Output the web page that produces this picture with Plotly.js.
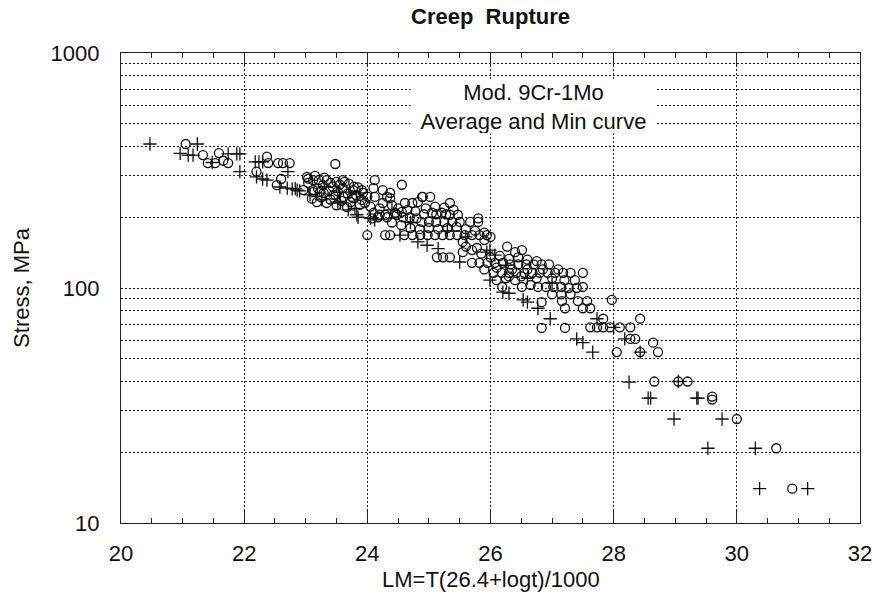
<!DOCTYPE html>
<html>
<head>
<meta charset="utf-8">
<script src="https://cdn.plot.ly/plotly-3.0.1.min.js"></script>
<style>
html,body{margin:0;padding:0;background:#fff;}
#chart{width:873px;height:594px;}
</style>
</head>
<body>
<div id="chart"></div>
<script>
// Circle symbols (o): Larson-Miller parameter and stress (MPa)
const circleLM = [21.05,21.33,21.41,21.53,21.59,21.66,21.74,22.2,22.37,22.39,22.55,22.63,22.74,23.48,22.6,22.53,23.02,23.04,23.12,22.96,
  23.12,23.6,23.21,23.34,23.5,23.63,23.78,23.91,23.12,23.29,23.45,23.61,23.77,23.91,23.28,23.44,23.6,23.77,23.93,23.18,
  23.34,23.5,23.67,23.04,23.23,23.48,23.75,23.96,24.12,24.25,24.37,24.56,24.89,24.08,24.17,24.29,24.45,24.56,24.0,24.29,
  24.37,24.1,24.12,24.32,24.37,24.1,24.2,24.32,24.48,24.58,24.69,24.8,24.61,24.73,24.82,24.9,25.02,25.34,25.05,25.21,
  25.34,25.47,25.5,25.67,25.8,25.8,24.92,25.12,25.28,24.88,25.0,25.12,25.25,25.38,24.6,24.73,24.86,24.98,25.1,25.22,
  25.34,25.46,25.58,25.7,25.82,25.94,25.13,25.23,25.34,25.55,25.78,25.55,25.9,26.0,26.27,26.4,26.51,25.7,25.82,25.95,
  26.07,26.2,26.32,26.45,26.58,26.7,26.83,26.95,26.05,26.18,26.3,26.42,26.55,26.68,26.8,26.93,27.05,27.18,27.3,27.5,
  26.65,26.77,26.9,27.02,27.15,27.27,27.4,27.5,26.19,26.51,27.37,26.1,26.25,26.4,27.0,27.15,27.3,27.97,27.16,27.42,
  27.57,27.21,27.5,27.62,26.83,27.83,28.43,26.83,27.21,27.62,27.73,27.83,27.94,28.1,28.27,28.27,28.35,28.05,28.43,28.64,
  28.72,28.66,29.05,29.2,29.6,29.6,30.0,30.64,30.9,
  23.15,23.3,23.4,23.55,23.7,23.85,23.2,23.38,23.52,23.68,23.82,24.0,23.1,23.25,23.4,23.58,23.73,23.88,24.05,24.2,
  24.25,24.4,24.5,24.65,24.78,24.95,25.1,25.25,25.4,24.4,24.55,24.7,24.85,25.0,25.15,25.3,25.45,25.6,25.75,25.9,
  25.6,25.7,25.85,26.0,26.15,26.3,26.45,26.6,26.75,25.9,26.1,26.35,26.6,26.85,27.1,26.3,26.5,26.75,27.0,27.2];
const circleStress = [410,368,340,340,375,348,340,313,362,340,340,340,340,337,291,274,297,280,288,261,
  261,288,288,288,283,283,270,261,256,254,249,244,241,237,274,270,266,261,254,232,
  230,225,221,292,256,249,244,230,288,261,241,275,244,198,200,205,209,211,168,168,
  168,266,244,244,254,209,205,200,205,200,200,198,230,230,232,244,244,230,209,209,
  205,205,191,191,198,191,206,206,206,191,191,191,191,191,168,168,168,168,168,168,
  168,168,168,168,168,168,135,135,135,142,148,157,160,165,150,142,145,128,128,128,
  128,128,126,126,126,126,126,126,116,116,116,116,116,116,116,116,116,116,116,116,
  103,101,101,101,101,100,100,101,101,101,108,108,110,108,94,94,94,89,88,88,
  88,82,82,82,87,74,74,67.6,67.6,68,68,68,68,68,68,60.7,60.7,53.4,53.4,58.5,
  53.4,40,40,40,34.5,33.5,27.7,20.8,14,
  300,295,280,275,278,268,265,260,258,252,248,245,240,243,238,235,232,226,222,218,
  230,225,218,215,212,218,222,220,215,190,185,180,178,180,178,180,182,178,175,172,
  150,145,140,135,137,133,135,132,130,120,122,120,120,120,120,112,112,110,110,108];

// Plus symbols (+)
const plusLM = [20.47,21.24,20.96,21.09,21.17,21.48,21.74,21.88,21.93,21.93,22.18,22.24,22.3,22.71,22.2,22.3,22.37,22.58,22.7,22.78,
  22.86,22.9,22.83,23.07,23.26,23.52,23.56,23.69,23.8,23.83,23.85,23.72,23.88,24.05,24.12,24.53,24.82,24.97,25.15,25.5,
  25.94,25.99,26.07,25.99,26.2,26.3,26.53,26.6,26.77,26.97,27.73,28.0,27.4,27.5,27.66,28.18,28.43,28.25,29.05,28.56,
  28.6,29.35,29.37,28.98,29.76,29.53,30.3,30.37,31.15,23.3,23.55,24.4,24.7,25.3,25.6,26.25,26.6,27.0];
const plusStress = [410,410,374,368,368,342,372,372,372,313,344,344,344,313,297,291,288,269,266,264,
  261,259,265,249,237,232,230,215,218,205,200,256,254,198,195,168,157,152,147,129,
  142,145,138,108,96,95,89,87,82,74,74,68,60.7,58.5,53.4,60.7,53.4,39.8,40,34,
  34,34,34,27.7,27.7,20.8,20.8,14,14,270,255,215,190,175,165,125,110,105];

// Axis ticks
const xTicks = [20,22,24,26,28,30,32];
const yTicks = [10,20,30,40,50,60,70,80,90,100,200,300,400,500,600,700,800,900,1000];
const yTickText = ['10','','','','','','','','','100','','','','','','','','','1000'];

const FONT = 'Liberation Sans, Arial, Helvetica, sans-serif';

const traces = [
  {x: circleLM, y: circleStress, type: 'scatter', mode: 'markers', name: 'o',
   marker: {symbol: 'circle-open', size: 9, color: '#111', line: {width: 1.3, color: '#111'}}},
  {x: plusLM, y: plusStress, type: 'scatter', mode: 'markers', name: '+',
   marker: {symbol: 'cross-thin-open', size: 9.5, color: '#111', line: {width: 1.3, color: '#111'}}}
];

const layout = {
  width: 873, height: 594,
  margin: {l: 121, r: 13, t: 53, b: 71, pad: 0},
  paper_bgcolor: '#fff', plot_bgcolor: '#fff',
  showlegend: false,
  font: {family: FONT, color: '#111'},
  title: {text: '<b>Creep\u00A0 Rupture</b>', font: {family: FONT, size: 22, color: '#111'},
          x: 0.5, xref: 'paper', xanchor: 'center', y: 1 - 16/594, yref: 'container', yanchor: 'middle'},
  xaxis: {
    range: [20, 32], tickvals: xTicks, ticktext: xTicks.map(String),
    showgrid: true, gridcolor: '#222', gridwidth: 1, griddash: '2px,2px',
    zeroline: false, showline: true, linecolor: '#222', linewidth: 1.2, mirror: 'ticks',
    ticks: 'inside', ticklen: 12, tickcolor: '#222', tickwidth: 1,
    minor: {dtick: 0.5, ticks: 'inside', ticklen: 5, tickcolor: '#222', tickwidth: 1, showgrid: false},
    tickfont: {family: FONT, size: 22, color: '#111'}, ticklabelstandoff: 10
  },
  yaxis: {
    type: 'log', range: [1, 3], tickvals: yTicks, ticktext: yTickText,
    showgrid: true, gridcolor: '#222', gridwidth: 1, griddash: '2px,2px',
    zeroline: false, showline: true, linecolor: '#222', linewidth: 1.2, mirror: true,
    ticks: '', tickfont: {family: FONT, size: 22, color: '#111'}, ticklabelstandoff: 16,
    title: {text: 'Stress, MPa', font: {family: FONT, size: 22, color: '#111'}, standoff: 14}
  },
  annotations: [{
    xref: 'paper', yref: 'paper', x: (533-121)/739, y: (523-107)/470,
    xanchor: 'center', yanchor: 'middle', showarrow: false,
    text: 'Mod. 9Cr-1Mo<br>Average and Min curve',
    font: {family: FONT, size: 22, color: '#111'},
    bgcolor: '#fff', width: 245, height: 52, borderpad: 0
  }, {
    xref: 'paper', yref: 'paper', x: 0.5, y: -(579-523)/470,
    xanchor: 'center', yanchor: 'middle', showarrow: false,
    text: 'LM=T(26.4+logt)/1000',
    font: {family: FONT, size: 22, color: '#111'}
  }]
};

Plotly.newPlot('chart', traces, layout, {staticPlot: true, displayModeBar: false});
</script>
</body>
</html>
